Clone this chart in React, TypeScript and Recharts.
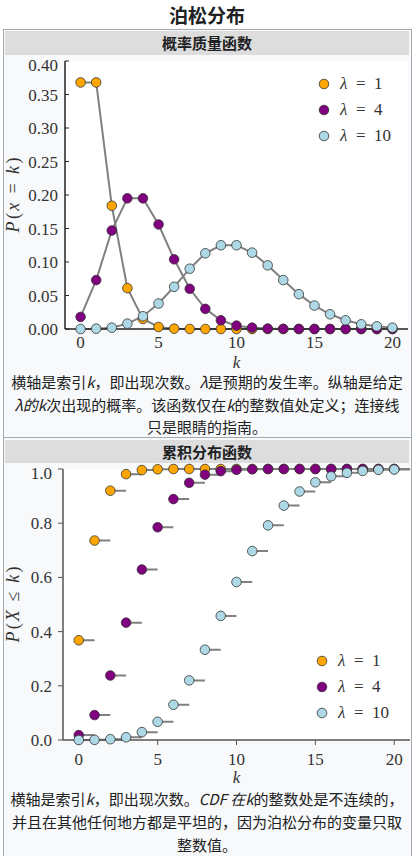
import React from "react";
import { CartesianGrid, ComposedChart, Legend, Line, Scatter, XAxis, YAxis } from "recharts";

// k = 0..20
const ks = [0, 1, 2, 3, 4, 5, 6, 7, 8, 9, 10, 11, 12, 13, 14, 15, 16, 17, 18, 19, 20];
const lambdaNames = ["1", "4", "10"];
const lambdaColors = ["#ffa500", "#800080", "#add8e6"];

// PMF
const pmf1 = [0.368, 0.368, 0.184, 0.061, 0.015, 0.003, 0.0005, 0.0001, 0, 0, 0, 0, 0, 0, 0, 0, 0, 0, 0, 0, 0];
const pmf4 = [0.018, 0.073, 0.147, 0.195, 0.195, 0.156, 0.104, 0.06, 0.03, 0.013, 0.005, 0.002, 0.0006, 0.0002, 0.0001, 0, 0, 0, 0, 0, 0];
const pmf10 = [0.0, 0.0005, 0.002, 0.008, 0.019, 0.038, 0.063, 0.09, 0.113, 0.125, 0.125, 0.114, 0.095, 0.073, 0.052, 0.035, 0.022, 0.013, 0.007, 0.004, 0.002];

// CDF
const cdf1 = [0.368, 0.736, 0.92, 0.981, 0.996, 0.999, 1, 1, 1, 1, 1, 1, 1, 1, 1, 1, 1, 1, 1, 1, 1];
const cdf4 = [0.018, 0.092, 0.238, 0.433, 0.629, 0.785, 0.889, 0.949, 0.979, 0.992, 0.997, 0.999, 1, 1, 1, 1, 1, 1, 1, 1, 1];
const cdf10 = [0.0, 0.0005, 0.003, 0.01, 0.029, 0.067, 0.13, 0.22, 0.333, 0.458, 0.583, 0.697, 0.792, 0.865, 0.917, 0.951, 0.973, 0.986, 0.993, 0.997, 0.998];

const xTicks = [0, 5, 10, 15, 20];
const pmfTicks = [0, 0.05, 0.1, 0.15, 0.2, 0.25, 0.3, 0.35, 0.4];
const cdfTicks = [0, 0.2, 0.4, 0.6, 0.8, 1];

const keys = ["l1", "l4", "l10"];

const pmfRows = ks.map((k, i) => ({ k, l1: pmf1[i], l4: pmf4[i], l10: pmf10[i] }));
const cdfRows = ks.map((k, i) => ({ k, l1: cdf1[i], l4: cdf4[i], l10: cdf10[i] }));

// flat step pieces [k, k+1) with a gap after each
const stepRows = (vals: number[]) =>
    ks.flatMap((k, i) => [
        { k, v: vals[i] },
        { k: k + 1, v: vals[i] },
        { k: k + 1, v: null },
    ]);
const cdfSteps = [stepRows(cdf1), stepRows(cdf4), stepRows(cdf10)];

const SERIF = '"Liberation Serif", "DejaVu Serif", serif';
const SANS = '"Noto Sans CJK SC", "Noto Sans", sans-serif';
const TICK = { fontFamily: SERIF, fontSize: 17, fill: "#333" };

const fmt2 = (v: number) => v.toFixed(2);
const fmt1 = (v: number) => v.toFixed(1);

function LegendBox() {
    return (
        <div style={{ fontFamily: SERIF, fontSize: 17, color: "#333" }}>
            {lambdaNames.map((n, i) => (
                <div key={n} style={{ height: 26, display: "flex", alignItems: "center" }}>
                    <svg width={12} height={12} style={{ marginRight: 10 }}>
                        <circle cx={6} cy={6} r={4.8} fill={lambdaColors[i]} stroke="#333" strokeWidth={0.8} />
                    </svg>
                    <span>
                        <i>λ</i>
                        {"\u2002=\u2002"}
                        {n}
                    </span>
                </div>
            ))}
        </div>
    );
}

const yLabel = (parts: [string, boolean][], len: number) => (props: any) => {
    const vb = props.viewBox;
    const x = vb.x + 13;
    const y = vb.y + vb.height / 2;
    return (
        <text
            x={x}
            y={y}
            transform={`rotate(-90 ${x} ${y})`}
            textAnchor="middle"
            dominantBaseline="central"
            fontFamily={SERIF}
            fontSize={18}
            fill="#333"
            textLength={len}
            lengthAdjust="spacing"
        >
            {parts.map(([t, it], i) => (
                <tspan key={i} fontStyle={it ? "italic" : "normal"}>
                    {t}
                </tspan>
            ))}
        </text>
    );
};

const kLabel = (dy: number) => (props: any) => {
    const vb = props.viewBox;
    return (
        <text
            x={vb.x + vb.width / 2}
            y={vb.y + dy}
            textAnchor="middle"
            dominantBaseline="central"
            fontFamily={SERIF}
            fontStyle="italic"
            fontSize={17}
            fill="#333"
        >
            k
        </text>
    );
};

function PmfChart() {
    return (
        <ComposedChart width={414} height={320} data={pmfRows} margin={{ top: 6, right: 6, left: 0, bottom: 0 }}>
            <CartesianGrid horizontal={false} vertical={false} fill="#ffffff" />
            <XAxis
                dataKey="k"
                type="number"
                domain={[-1, 21]}
                ticks={xTicks}
                height={46}
                tick={TICK}
                tickSize={-4}
                tickMargin={11}
                axisLine={{ stroke: "#222", strokeWidth: 1.5 }}
                tickLine={{ stroke: "#222" }}
                label={kLabel(33)}
            />
            <XAxis
                xAxisId="top"
                orientation="top"
                type="number"
                domain={[-1, 21]}
                ticks={xTicks}
                height={0}
                tick={false}
                tickSize={-4}
                axisLine={{ stroke: "#222", strokeWidth: 1.5 }}
                tickLine={{ stroke: "#222" }}
            />
            <YAxis
                type="number"
                domain={[0, 0.4]}
                ticks={pmfTicks}
                width={65}
                tick={TICK}
                tickFormatter={fmt2}
                tickSize={-4}
                tickMargin={11}
                axisLine={{ stroke: "#222", strokeWidth: 1.5 }}
                tickLine={{ stroke: "#222" }}
                label={yLabel([["P", true], ["(", false], ["x", true], [" = ", false], ["k", true], [")", false]], 75)}
            />
            <YAxis
                yAxisId="right"
                orientation="right"
                type="number"
                domain={[0, 0.4]}
                ticks={pmfTicks}
                width={0}
                tick={false}
                tickSize={-4}
                axisLine={{ stroke: "#222", strokeWidth: 1.5 }}
                tickLine={{ stroke: "#222" }}
            />
            {keys.map((key, i) => (
                <Line
                    key={key}
                    dataKey={key}
                    stroke="#808080"
                    strokeWidth={2}
                    dot={{ r: 4.8, fill: lambdaColors[i], stroke: "#333", strokeWidth: 0.8 }}
                    activeDot={false}
                    isAnimationActive={false}
                />
            ))}
            <Legend
                layout="vertical"
                align="center"
                verticalAlign="middle"
                content={() => <LegendBox />}
                wrapperStyle={{ top: 16, left: 318, width: "auto" }}
            />
        </ComposedChart>
    );
}

function CdfChart() {
    return (
        <ComposedChart width={414} height={332} data={cdfRows} margin={{ top: 6, right: 4, left: 0, bottom: 0 }}>
            <CartesianGrid horizontal={false} vertical={false} fill="#ffffff" />
            <XAxis
                dataKey="k"
                type="number"
                domain={[-1, 21]}
                ticks={xTicks}
                height={55}
                tick={TICK}
                tickSize={5}
                tickMargin={8}
                axisLine={{ stroke: "#555", strokeWidth: 1.5 }}
                tickLine={{ stroke: "#555" }}
                label={kLabel(37)}
            />
            <XAxis
                xAxisId="top"
                orientation="top"
                type="number"
                domain={[-1, 21]}
                height={0}
                tick={false}
                tickLine={false}
                axisLine={{ stroke: "#444", strokeWidth: 1.5 }}
            />
            <YAxis
                type="number"
                domain={[0, 1]}
                ticks={cdfTicks}
                width={63}
                tick={TICK}
                tickFormatter={fmt1}
                tickSize={5}
                tickMargin={6}
                axisLine={{ stroke: "#555", strokeWidth: 1.5 }}
                tickLine={{ stroke: "#555" }}
                label={yLabel([["P", true], ["(", false], ["X", true], [" ≤ ", false], ["k", true], [")", false]], 76)}
            />
            <YAxis
                yAxisId="right"
                orientation="right"
                type="number"
                domain={[0, 1]}
                width={0}
                tick={false}
                tickLine={false}
                axisLine={{ stroke: "#444", strokeWidth: 1.5 }}
            />
            {keys.map((key, i) => [
                <Line
                    key={key + "-step"}
                    data={cdfSteps[i]}
                    dataKey="v"
                    stroke="#808080"
                    strokeWidth={2}
                    dot={false}
                    activeDot={false}
                    legendType="none"
                    connectNulls={false}
                    isAnimationActive={false}
                />,
                <Scatter
                    key={key + "-dot"}
                    dataKey={key}
                    isAnimationActive={false}
                    shape={(p: any) => (
                        <circle cx={p.cx} cy={p.cy} r={4.8} fill={lambdaColors[i]} stroke="#333" strokeWidth={0.8} />
                    )}
                />,
            ])}
            <Legend
                layout="vertical"
                align="center"
                verticalAlign="middle"
                content={() => <LegendBox />}
                wrapperStyle={{ top: 185, left: 316, width: "auto" }}
            />
        </ComposedChart>
    );
}

const lineStyle: React.CSSProperties = {
    position: "absolute",
    left: 4,
    width: 406,
    height: 18,
    lineHeight: "18px",
    textAlign: "center",
    fontFamily: SANS,
    fontSize: 15,
    color: "#202122",
    whiteSpace: "nowrap",
};

// centre y of each caption line
const capLine = (cy: number, content: React.ReactNode) => (
    <div style={{ ...lineStyle, top: cy - 9 }}>{content}</div>
);

const headStyle: React.CSSProperties = {
    position: "absolute",
    left: 5,
    width: 404,
    background: "#dddddd",
    textAlign: "center",
    fontFamily: SANS,
    fontWeight: "bold",
    fontSize: 15,
    color: "#202122",
};

export default function App() {
    return (
        <div style={{ position: "absolute", left: 0, top: 0, width: 414, height: 856, background: "#fff", overflow: "hidden" }}>
            <div
                style={{
                    position: "absolute",
                    top: 4,
                    left: 0,
                    width: 414,
                    lineHeight: "22px",
                    textAlign: "center",
                    fontFamily: SANS,
                    fontWeight: "bold",
                    fontSize: 19,
                    color: "#202122",
                }}
            >
                泊松分布
            </div>
            <div
                style={{
                    position: "absolute",
                    top: 29,
                    left: 3,
                    width: 407,
                    height: 840,
                    border: "1px solid #a2a9b1",
                    background: "#f8f9fa",
                }}
            />
            <div style={{ position: "absolute", top: 437, left: 3, width: 409, height: 1, background: "#a2a9b1" }} />

            <div style={{ ...headStyle, top: 31, height: 24, lineHeight: "24px" }}>概率质量函数</div>
            <div style={{ position: "absolute", top: 55, left: 0 }}>
                <PmfChart />
            </div>
            {capLine(382, <>横轴是索引<i>k</i>，即出现次数。<i>λ</i>是预期的发生率。纵轴是给定</>)}
            {capLine(405, <><i>λ的k</i>次出现的概率。该函数仅在<i>k</i>的整数值处定义；连接线</>)}
            {capLine(427, <>只是眼睛的指南。</>)}

            <div style={{ ...headStyle, top: 440, height: 23, lineHeight: "23px" }}>累积分布函数</div>
            <div style={{ position: "absolute", top: 463, left: 0 }}>
                <CdfChart />
            </div>
            {capLine(799, <>横轴是索引<i>k</i>，即出现次数。<i>CDF 在k</i>的整数处是不连续的，</>)}
            {capLine(822, <>并且在其他任何地方都是平坦的，因为泊松分布的变量只取</>)}
            {capLine(845, <>整数值。</>)}
        </div>
    );
}
